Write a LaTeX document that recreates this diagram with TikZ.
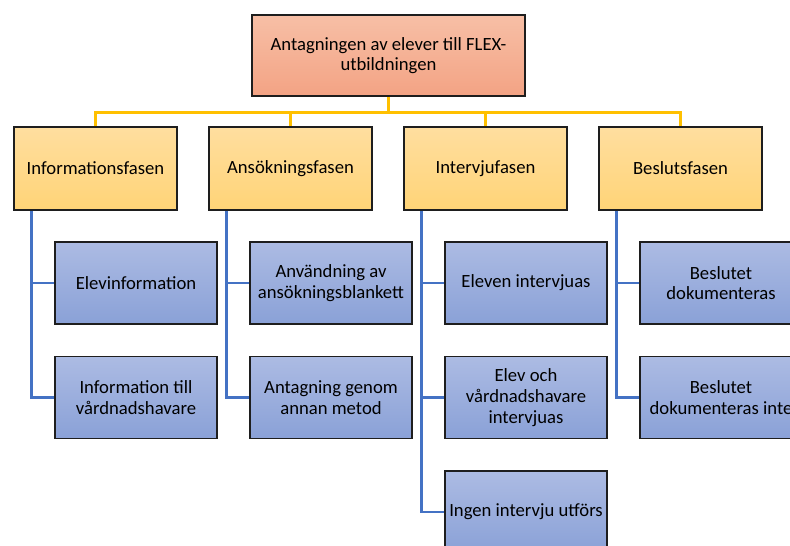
\documentclass[tikz,border=0pt]{standalone}
\usepackage{fontspec}
\setmainfont{Carlito}
\definecolor{rootTop}{HTML}{F7BFA6}
\definecolor{rootBot}{HTML}{F3A384}
\definecolor{phaseTop}{HTML}{FFDE9F}
\definecolor{phaseBot}{HTML}{FFD477}
\definecolor{childTop}{HTML}{ACBBE3}
\definecolor{childBot}{HTML}{8AA1D7}
\definecolor{busYellow}{HTML}{FFC000}
\definecolor{stemBlue}{HTML}{4472C4}
\definecolor{frameGray}{HTML}{1E1E1E}

\begin{document}
\begin{tikzpicture}[x=0.75pt,y=-0.75pt,
	font=\fontsize{14}{15.5}\selectfont,
	box/.style={rectangle,draw=frameGray,line width=1.4pt,align=center,inner sep=2pt},
	rootbox/.style={box,top color=rootTop,bottom color=rootBot,minimum width=204.75pt,minimum height=60.75pt},
	phasebox/.style={box,top color=phaseTop,bottom color=phaseBot,minimum width=122.25pt,minimum height=62.25pt},
	childbox/.style={box,top color=childTop,bottom color=childBot,minimum width=121.5pt,minimum height=61.5pt},
	busline/.style={busYellow,line width=2.2pt},
	stemline/.style={stemBlue,line width=2.2pt}]
	\useasboundingbox (0,0) rectangle (790,546);
	\node[rootbox] (root) at (388.5,55.5) {Antagningen av elever till FLEX-\\utbildningen};
	\foreach \i/\name in {1/Informationsfasen,2/Ansökningsfasen,3/Intervjufasen,4/Beslutsfasen}{
		\node[phasebox] (p\i) at ({95.5+195*(\i-1)},168.5) {\name};
		\draw[busline] (root.south) -- ++(0,16) -| (p\i.north);
	}
	\foreach \i/\j/\txt in {1/1/Elevinformation,1/2/{Information till\\vårdnadshavare},
		2/1/{Användning av\\ansökningsblankett},2/2/{Antagning genom\\annan metod},
		3/1/Eleven intervjuas,3/2/{Elev och\\vårdnadshavare\\intervjuas},3/3/Ingen intervju utförs,
		4/1/{Beslutet\\dokumenteras},4/2/{Beslutet\\dokumenteras inte}}{
		\node[childbox] (c\i\j) at ({136+195*(\i-1)},{283+114.5*(\j-1)}) {\txt};
		\draw[stemline] ([xshift=13.5pt]p\i.south west) |- (c\i\j.west);
	}
\end{tikzpicture}
\end{document}
